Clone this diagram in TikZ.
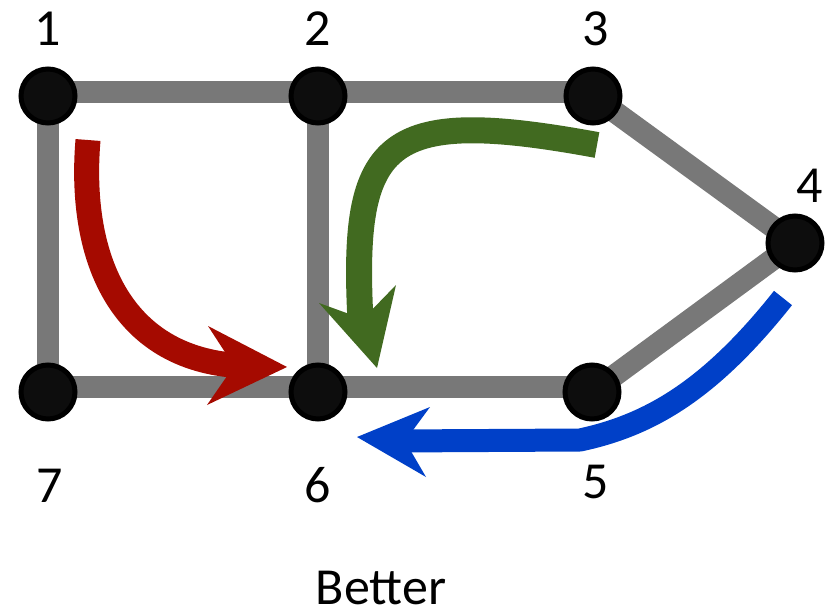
\documentclass[tikz,border=0pt]{standalone}
\usepackage{fontspec}
\setmainfont{Carlito}
\usetikzlibrary{backgrounds}

\definecolor{edgegray}{HTML}{787878}
\definecolor{vertexfill}{HTML}{0D0D0D}
\definecolor{pathred}{HTML}{A50A00}
\definecolor{pathgreen}{HTML}{416A20}
\definecolor{pathblue}{HTML}{0040C8}

\tikzset{
  vertex/.style={circle, draw=black, line width=5pt, fill=vertexfill,
                 minimum size=54pt, inner sep=0pt},
  link/.style={draw=edgegray, line width=22pt},
  numlabel/.style={anchor=base, inner sep=0pt, text depth=0pt,
                   font=\fontsize{52}{60}\selectfont},
  routeshaft/.style={line width=#1, line cap=butt, line join=round},
}

\begin{document}
\begin{tikzpicture}[x=1pt, y=-1pt]
  \useasboundingbox (0,0) rectangle (835,611);

  % vertices
  \node[vertex] (n1) at (48,96)  {};
  \node[vertex] (n2) at (318,96) {};
  \node[vertex] (n3) at (593,96) {};
  \node[vertex] (n4) at (795,243) {};
  \node[vertex] (n5) at (592,392) {};
  \node[vertex] (n6) at (318,392) {};
  \node[vertex] (n7) at (48,392) {};

  % edges, behind the vertices
  \begin{scope}[on background layer]
    \draw[link] ([yshift=4pt]n1.center) -- ([yshift=4pt]n2.center);
    \draw[link] ([yshift=4pt]n2.center) -- ([yshift=4pt]n3.center);
    \draw[link] (n3.center) -- (n4.center);
    \draw[link] (n4.center) -- (n5.center);
    \draw[link] ([yshift=5pt]n5.center) -- ([yshift=5pt]n6.center);
    \draw[link] ([yshift=5pt]n6.center) -- ([yshift=5pt]n7.center);
    \draw[link] (n1.center) -- (n7.center);
    \draw[link] (n2.center) -- (n6.center);
  \end{scope}

  % vertex numbers
  \node[numlabel] (l1) at (48,45)   {1};
  \node[numlabel] (l2) at (318,45)  {2};
  \node[numlabel] (l3) at (596,45)  {3};
  \node[numlabel] (l4) at (810,202) {4};
  \node[numlabel] (l5) at (596,498) {5};
  \node[numlabel] (l6) at (318,502) {6};
  \node[numlabel] (l7) at (50,502)  {7};

  % caption
  \node[numlabel] (caption) at (381,604) {Better};

  % red route: 1 down to 6
  \coordinate (rs) at (88,140);
  \coordinate (re) at (246,366);
  \draw[pathred, routeshaft=25pt] (rs) .. controls (78,260) and (122,362) .. (re);
  \fill[pathred] (287,367) -- (208,326) -- (234,366) -- (207,405) -- cycle;

  % green route: 3 over to 2 and down to 6
  \coordinate (gs) at (597,145);
  \coordinate (ge) at (361,330);
  \draw[pathgreen, routeshaft=26pt] (gs) .. controls (380,105) and (350,140) .. (ge);
  \fill[pathgreen] (377,368) -- (319,303) -- (363,319) -- (396,285) -- cycle;

  % blue route: 4 down past 5 to 6
  \coordinate (bs) at (783,298);
  \coordinate (bk) at (580,440);
  \coordinate (be) at (394,441);
  \draw[pathblue, routeshaft=23pt] (bs) .. controls (710,390) and (650,425) .. (bk) -- (be);
  \fill[pathblue] (357,437) -- (430,407) -- (405,441) -- (426,477) -- cycle;
\end{tikzpicture}
\end{document}
